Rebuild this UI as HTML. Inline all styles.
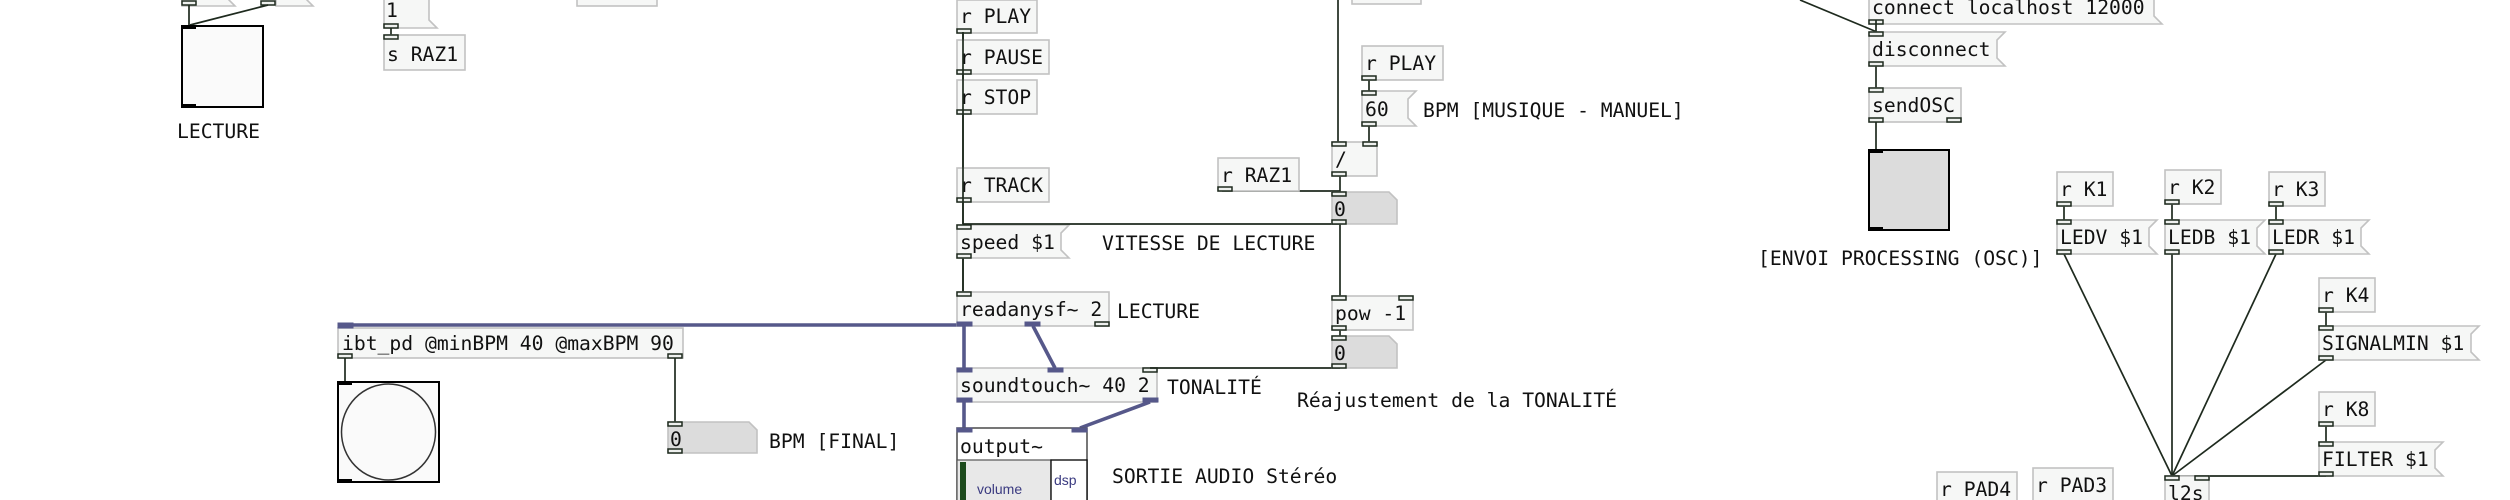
<!DOCTYPE html>
<html><head><meta charset="utf-8"><style>
html,body{margin:0;padding:0;background:#fff;width:2510px;height:500px;overflow:hidden}
svg text{font-family:"DejaVu Sans Mono","Liberation Mono",monospace;font-size:19.7px;fill:#111}
.o{fill:#f6f7f6;stroke:#c2c2c2;stroke-width:1.6}
.n{fill:#dcdcdc;stroke:#c2c2c2;stroke-width:1.6}
.c{stroke:#1e2a1e;stroke-width:1.7;fill:none}
.s{stroke:#56588a;stroke-width:3.6;fill:none}
.io{fill:#eef0ee;stroke:#1e2a1e;stroke-width:1.5}
.si{fill:#56588a;stroke:#56588a;stroke-width:1}
</style></head><body>
<svg width="2510" height="500" viewBox="0 0 2510 500" xmlns="http://www.w3.org/2000/svg">
<!-- top-left partial messages -->
<path class="o" d="M182 -30H235L227 -22V-2L235 6H182Z"/>
<path class="o" d="M276 -30H313L305 -22V-2L313 6H276Z"/>
<rect class="io" x="182" y="1" width="14" height="4"/>
<rect class="io" x="261" y="1" width="14" height="4"/>
<line class="c" x1="189" y1="5" x2="189" y2="26"/>
<line class="c" x1="268" y1="5" x2="190" y2="25"/>
<rect x="182" y="26" width="81" height="81" fill="#fafafa" stroke="#000" stroke-width="2"/>
<rect x="182" y="26" width="14" height="3" fill="#000"/>
<rect x="182" y="104" width="14" height="3" fill="#000"/>
<text x="177" y="138">LECTURE</text>
<!-- 1 / s RAZ1 -->
<path class="o" d="M384 -10H437L429 -2V20L437 28H384Z"/>
<text x="386" y="17">1</text>
<rect class="io" x="384" y="24" width="14" height="4"/>
<line class="c" x1="391" y1="28" x2="391" y2="35"/>
<rect class="o" x="384" y="35" width="81" height="35"/>
<rect class="io" x="384" y="35" width="14" height="4"/>
<text x="387" y="61">s RAZ1</text>
<rect class="o" x="577" y="-30" width="80" height="36"/>
<rect class="o" x="1352" y="-30" width="69" height="34"/>
<!-- ibt_pd -->
<rect class="o" x="338" y="328" width="345" height="30"/>
<text x="342" y="350">ibt_pd @minBPM 40 @maxBPM 90</text>
<rect class="io" x="338" y="354" width="14" height="4"/>
<rect class="io" x="668" y="354" width="14" height="4"/>
<line class="c" x1="345" y1="358" x2="345" y2="382"/>
<line class="c" x1="675" y1="358" x2="675" y2="422"/>
<rect x="338" y="382" width="101" height="100" fill="#fafafa" stroke="#000" stroke-width="2"/>
<ellipse cx="388.5" cy="432" rx="47" ry="48" fill="none" stroke="#333" stroke-width="1.5"/>
<rect x="338" y="382" width="14" height="3" fill="#000"/>
<rect x="338" y="479" width="14" height="3" fill="#000"/>
<path class="n" d="M668 422H749L757 430V453H668Z"/>
<rect class="io" x="668" y="422" width="14" height="4"/>
<rect class="io" x="668" y="449" width="14" height="4"/>
<text x="670" y="446">0</text>
<text x="769" y="448">BPM [FINAL]</text>
<!-- signal lines -->
<line class="s" x1="964" y1="325" x2="340" y2="325"/>
<rect class="si" x="338" y="323" width="15" height="5"/>
<!-- middle column -->
<line class="c" x1="963" y1="33" x2="963" y2="292"/>
<rect class="o" x="957" y="0" width="80" height="33"/>
<text x="960" y="23">r PLAY</text>
<rect class="io" x="957" y="29" width="14" height="4"/>
<rect class="o" x="957" y="40" width="92" height="34"/>
<text x="960" y="64">r PAUSE</text>
<rect class="io" x="957" y="70" width="14" height="4"/>
<rect class="o" x="957" y="80" width="80" height="34"/>
<text x="960" y="104">r STOP</text>
<rect class="io" x="957" y="110" width="14" height="4"/>
<rect class="o" x="957" y="168" width="92" height="34"/>
<text x="960" y="192">r TRACK</text>
<rect class="io" x="957" y="198" width="14" height="4"/>
<line class="c" x1="963" y1="32" x2="963" y2="292"/>
<path class="o" d="M957 225H1069L1061 233V250L1069 258H957Z"/>
<text x="960" y="249">speed $1</text>
<rect class="io" x="957" y="225" width="14" height="4"/>
<rect class="io" x="957" y="254" width="14" height="4"/>
<text x="1102" y="250">VITESSE DE LECTURE</text>
<rect class="o" x="957" y="292" width="152" height="34"/>
<text x="960" y="316">readanysf~ 2</text>
<rect class="io" x="957" y="292" width="14" height="4"/>
<rect class="si" x="957" y="322" width="15" height="4"/>
<rect class="si" x="1025" y="322" width="15" height="4"/>
<rect class="io" x="1095" y="322" width="14" height="4"/>
<text x="1117" y="318">LECTURE</text>
<rect class="o" x="957" y="368" width="200" height="34"/>
<text x="960" y="392">soundtouch~ 40 2</text>
<rect class="si" x="957" y="368" width="15" height="4"/>
<rect class="si" x="1048" y="368" width="15" height="4"/>
<rect class="io" x="1143" y="368" width="14" height="4"/>
<rect class="si" x="957" y="398" width="15" height="4"/>
<rect class="si" x="1143" y="398" width="15" height="4"/>
<text x="1167" y="394">TONALITÉ</text>
<text x="1297" y="407">Réajustement de la TONALITÉ</text>
<line class="s" x1="964" y1="326" x2="964" y2="368"/>
<line class="s" x1="1033" y1="326" x2="1055" y2="368"/>
<line class="s" x1="964" y1="402" x2="964" y2="428"/>
<line class="s" x1="1150" y1="402" x2="1080" y2="428"/>
<!-- output~ -->
<rect x="957" y="428" width="130" height="80" fill="#fff" stroke="#555" stroke-width="1.6"/>
<rect class="si" x="957" y="428" width="15" height="4"/>
<rect class="si" x="1072" y="428" width="15" height="4"/>
<text x="960" y="453">output~</text>
<rect x="957" y="460" width="94" height="48" fill="#e8e8e8" stroke="#555" stroke-width="1.2"/>
<rect x="960" y="462" width="6" height="40" fill="#1c4a1c"/>
<rect x="1051" y="460" width="36" height="48" fill="#fff" stroke="#111" stroke-width="1.4"/>
<text x="977" y="494" style="font-family:'Liberation Sans',sans-serif;font-size:14px;fill:#3a3a80">volume</text>
<text x="1054" y="485" style="font-family:'Liberation Sans',sans-serif;font-size:14px;fill:#3a3a80">dsp</text>
<text x="1112" y="483">SORTIE AUDIO Stéréo</text>
<!-- right middle chain -->
<line class="c" x1="1338" y1="0" x2="1338" y2="142"/>
<line class="c" x1="963" y1="224" x2="1340" y2="224"/>
<line class="c" x1="1222" y1="191" x2="1340" y2="191"/>
<line class="c" x1="1340" y1="176" x2="1340" y2="192"/>
<line class="c" x1="1340" y1="224" x2="1340" y2="296"/>
<line class="c" x1="1340" y1="330" x2="1340" y2="336"/>
<line class="c" x1="1340" y1="368" x2="1150" y2="368"/>
<line class="c" x1="1369" y1="80" x2="1369" y2="91"/>
<line class="c" x1="1369" y1="126" x2="1369" y2="142"/>
<rect class="o" x="1218" y="158" width="81" height="33"/>
<text x="1221" y="182">r RAZ1</text>
<rect class="io" x="1218" y="187" width="14" height="4"/>
<rect class="o" x="1362" y="46" width="81" height="34"/>
<text x="1365" y="70">r PLAY</text>
<rect class="io" x="1362" y="76" width="14" height="4"/>
<path class="o" d="M1362 91H1416L1408 99V118L1416 126H1362Z"/>
<text x="1365" y="116">60</text>
<rect class="io" x="1362" y="91" width="14" height="4"/>
<rect class="io" x="1362" y="122" width="14" height="4"/>
<text x="1423" y="117">BPM [MUSIQUE - MANUEL]</text>
<rect class="o" x="1332" y="142" width="45" height="34"/>
<text x="1335" y="166">/</text>
<rect class="io" x="1332" y="142" width="14" height="4"/>
<rect class="io" x="1363" y="142" width="14" height="4"/>
<rect class="io" x="1332" y="172" width="14" height="4"/>
<path class="n" d="M1332 192H1389L1397 200V224H1332Z"/>
<rect class="io" x="1332" y="192" width="14" height="4"/>
<rect class="io" x="1332" y="220" width="14" height="4"/>
<text x="1334" y="216">0</text>
<rect class="o" x="1332" y="296" width="81" height="34"/>
<text x="1335" y="320">pow -1</text>
<rect class="io" x="1332" y="296" width="14" height="4"/>
<rect class="io" x="1399" y="296" width="14" height="4"/>
<rect class="io" x="1332" y="326" width="14" height="4"/>
<path class="n" d="M1332 336H1389L1397 344V368H1332Z"/>
<rect class="io" x="1332" y="336" width="14" height="4"/>
<rect class="io" x="1332" y="364" width="14" height="4"/>
<text x="1334" y="360">0</text>
<!-- OSC -->
<line class="c" x1="1800" y1="0" x2="1877" y2="32"/>
<path class="o" d="M1869 -10H2162L2154 -2V16L2162 24H1869Z"/>
<text x="1872" y="14">connect localhost 12000</text>
<rect class="io" x="1869" y="20" width="14" height="4"/>
<line class="c" x1="1876" y1="20" x2="1876" y2="88"/>
<path class="o" d="M1869 32H2005L1997 40V58L2005 66H1869Z"/>
<text x="1872" y="56">disconnect</text>
<rect class="io" x="1869" y="32" width="14" height="4"/>
<rect class="io" x="1869" y="62" width="14" height="4"/>
<rect class="o" x="1869" y="88" width="92" height="34"/>
<text x="1872" y="112">sendOSC</text>
<rect class="io" x="1869" y="88" width="14" height="4"/>
<rect class="io" x="1869" y="118" width="14" height="4"/>
<rect class="io" x="1947" y="118" width="14" height="4"/>
<line class="c" x1="1876" y1="122" x2="1876" y2="150"/>
<rect x="1869" y="150" width="80" height="80" fill="#dcdcdc" stroke="#000" stroke-width="2"/>
<rect x="1869" y="150" width="14" height="3" fill="#000"/>
<rect x="1869" y="227" width="14" height="3" fill="#000"/>
<text x="1758" y="265">[ENVOI PROCESSING (OSC)]</text>
<!-- K section lines -->
<line class="c" x1="2064" y1="206" x2="2064" y2="220"/>
<line class="c" x1="2172" y1="204" x2="2172" y2="220"/>
<line class="c" x1="2276" y1="206" x2="2276" y2="220"/>
<line class="c" x1="2326" y1="312" x2="2326" y2="326"/>
<line class="c" x1="2326" y1="426" x2="2326" y2="442"/>
<line class="c" x1="2064" y1="254" x2="2172" y2="476"/>
<line class="c" x1="2172" y1="254" x2="2172" y2="476"/>
<line class="c" x1="2276" y1="254" x2="2172" y2="476"/>
<line class="c" x1="2326" y1="360" x2="2172" y2="476"/>
<line class="c" x1="2326" y1="476" x2="2172" y2="476"/>
<rect class="o" x="2057" y="172" width="56" height="34"/><text x="2060" y="196">r K1</text>
<rect class="io" x="2057" y="202" width="14" height="4"/>
<rect class="o" x="2165" y="170" width="56" height="34"/><text x="2168" y="194">r K2</text>
<rect class="io" x="2165" y="200" width="14" height="4"/>
<rect class="o" x="2269" y="172" width="56" height="34"/><text x="2272" y="196">r K3</text>
<rect class="io" x="2269" y="202" width="14" height="4"/>
<path class="o" d="M2057 220H2157L2149 228V246L2157 254H2057Z"/><text x="2060" y="244">LEDV $1</text>
<rect class="io" x="2057" y="220" width="14" height="4"/><rect class="io" x="2057" y="250" width="14" height="4"/>
<path class="o" d="M2165 220H2265L2257 228V246L2265 254H2165Z"/><text x="2168" y="244">LEDB $1</text>
<rect class="io" x="2165" y="220" width="14" height="4"/><rect class="io" x="2165" y="250" width="14" height="4"/>
<path class="o" d="M2269 220H2369L2361 228V246L2369 254H2269Z"/><text x="2272" y="244">LEDR $1</text>
<rect class="io" x="2269" y="220" width="14" height="4"/><rect class="io" x="2269" y="250" width="14" height="4"/>
<rect class="o" x="2319" y="278" width="56" height="34"/><text x="2322" y="302">r K4</text>
<rect class="io" x="2319" y="308" width="14" height="4"/>
<path class="o" d="M2319 326H2479L2471 334V352L2479 360H2319Z"/><text x="2322" y="350">SIGNALMIN $1</text>
<rect class="io" x="2319" y="326" width="14" height="4"/><rect class="io" x="2319" y="356" width="14" height="4"/>
<rect class="o" x="2319" y="392" width="56" height="34"/><text x="2322" y="416">r K8</text>
<rect class="io" x="2319" y="422" width="14" height="4"/>
<path class="o" d="M2319 442H2443L2435 450V468L2443 476H2319Z"/><text x="2322" y="466">FILTER $1</text>
<rect class="io" x="2319" y="442" width="14" height="4"/><rect class="io" x="2319" y="472" width="14" height="4"/>
<rect class="o" x="1937" y="472" width="80" height="40"/><text x="1940" y="496">r PAD4</text>
<rect class="o" x="2033" y="468" width="80" height="40"/><text x="2036" y="492">r PAD3</text>
<rect class="o" x="2165" y="476" width="44" height="34"/><text x="2168" y="500">l2s</text>
<rect class="io" x="2165" y="476" width="14" height="4"/>
<rect class="io" x="2195" y="476" width="14" height="4"/>
</svg>
</body></html>
